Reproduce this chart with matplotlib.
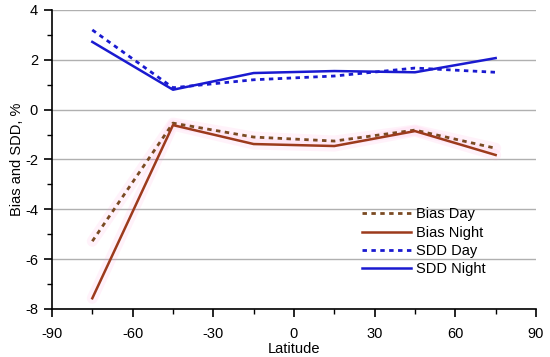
import matplotlib
matplotlib.use("Agg")
import matplotlib.pyplot as plt
from matplotlib.ticker import MultipleLocator

plt.rcParams['font.family'] = ['Liberation Sans', 'DejaVu Sans']
plt.rcParams['axes.unicode_minus'] = False

latitude = [-75, -45, -15, 15, 45, 75]
bias_day = [-5.28, -0.54, -1.1, -1.26, -0.82, -1.55]
bias_night = [-7.57, -0.62, -1.38, -1.46, -0.86, -1.82]
sdd_day = [3.2, 0.88, 1.2, 1.35, 1.67, 1.5]
sdd_night = [2.72, 0.8, 1.47, 1.55, 1.5, 2.07]

fig = plt.figure(figsize=(5.5, 3.57), dpi=100)
ax = fig.add_axes([0.0945, 0.1345, 0.88, 0.8375])

halo = dict(color='#ff9ad8', alpha=0.12, lw=8, solid_capstyle='round', zorder=1)
ax.plot(latitude, bias_day, **halo)
ax.plot(latitude, bias_night, **halo)

dash = (0, (1.6, 1.6))
ax.plot(latitude, bias_day, color='#7a4a22', lw=2, ls=dash, label='Bias Day', zorder=3)
ax.plot(latitude, bias_night, color='#9c3a1c', lw=1.8, label='Bias Night', zorder=3)
ax.plot(latitude, sdd_day, color='#1a1ad0', lw=2, ls=dash, label='SDD Day', zorder=3)
ax.plot(latitude, sdd_night, color='#1a1ad0', lw=1.8, label='SDD Night', zorder=3)

ax.set_xlim(-90, 90)
ax.set_ylim(-8, 4)
ax.xaxis.set_major_locator(MultipleLocator(30))
ax.xaxis.set_minor_locator(MultipleLocator(15))
ax.yaxis.set_major_locator(MultipleLocator(2))
ax.yaxis.set_minor_locator(MultipleLocator(1))
ax.grid(axis='y', which='major', color='#b0b0b0', lw=1)
ax.set_axisbelow(True)
for s in ['top', 'right']:
    ax.spines[s].set_visible(False)
for s in ['left', 'bottom']:
    ax.spines[s].set_linewidth(1.2)
ax.tick_params(which='major', direction='out', length=6, width=1.2, labelsize=10.5,
               colors='black', pad=4)
ax.tick_params(axis='x', which='major', pad=7)
ax.tick_params(which='minor', direction='out', length=3.5, width=1.0)

ax.set_xlabel('Latitude', fontsize=10.5, labelpad=1)
ax.set_ylabel('Bias and SDD, %', fontsize=10.5, labelpad=1)

ax.legend(loc='upper left', bbox_to_anchor=(0.64, 0.34), frameon=False, fontsize=10.5,
          handlelength=3.4, handletextpad=0.35, labelspacing=0.3, borderpad=0,
          borderaxespad=0)

fig.savefig('out.png', dpi=100)
